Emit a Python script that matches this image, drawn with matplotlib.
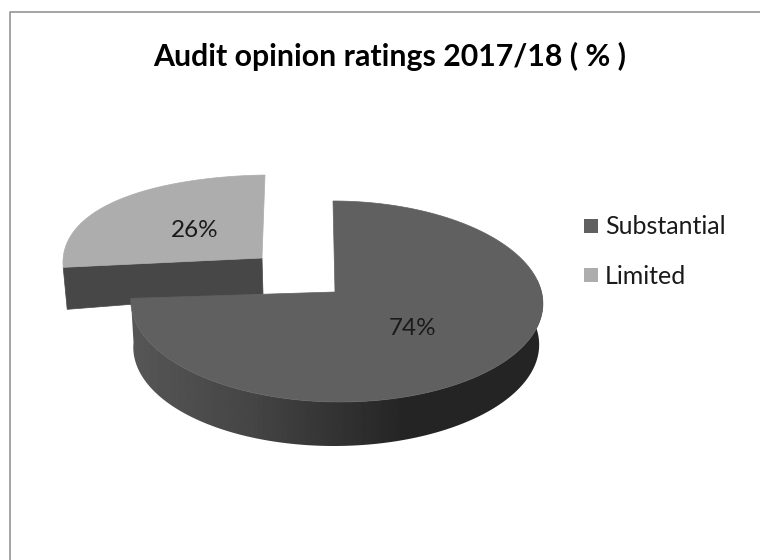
"""Audit opinion ratings drawn as an exploded 3D-style pie."""

import numpy as np
import matplotlib
matplotlib.use("Agg")
import matplotlib.pyplot as plt
from matplotlib.patches import Polygon, Rectangle
from matplotlib.lines import Line2D

categories = ["Substantial", "Limited"]
shares = [74, 26]
title = "Audit opinion ratings 2017/18 ( % )"

TOP_COLORS = ["#606060", "#adadad"]
LIMITED_WALL = "#474747"

plt.rcParams["font.family"] = ["Lato", "DejaVu Sans"]

W, H = 760, 560
fig = plt.figure(figsize=(W / 100, H / 100), dpi=100)
ax = fig.add_axes([0, 0, 1, 1])
ax.set_xlim(0, W)
ax.set_ylim(H, 0)
ax.axis("off")


def rim(theta, cx, cy, rx, a, b, lean, persp, shear):
    """Project a clockwise-from-top angle onto the tilted pie surface."""
    u, v = np.sin(theta), np.cos(theta)
    x = cx + rx * u * (1 - persp * v) + lean * v
    y = cy - (a * v - b * v**2) - shear * u
    return x, y


# slice boundary, clockwise from 12 o'clock
split = 2 * np.pi * shares[0] / sum(shares)

# main slice rim and apex
apex = (335, 292)
main = dict(cx=336.5, cy=292, rx=205, a=100.5, b=9.5, lean=-3.5, persp=0.1, shear=0)
theta = np.linspace(0, split, 400)
tx, ty = rim(theta, **main)

# front wall: top rim forward, lower rim back, filled with a horizontal gradient
depth = 44
wall = (theta > np.radians(80))
wx, wy = tx[wall], ty[wall]
bx = 335 + (wx - 335) * 0.985 + 6 * np.cos(theta[wall])
by = wy + depth
outline = np.column_stack([np.r_[wx, bx[::-1]], np.r_[wy, by[::-1]]])
clip = Polygon(outline, closed=True, transform=ax.transData, fc="none", ec="none")
ax.add_patch(clip)
grad_x = np.array([130, 253, 337, 403, 545])
grad_g = np.array([0.34, 0.27, 0.20, 0.145, 0.145])
xs = np.linspace(130, 545, 416)
shade = np.interp(xs, grad_x, grad_g)[None, :]
im = ax.imshow(shade, cmap="gray", vmin=0, vmax=1, extent=(130, 545, 460, 280),
               aspect="auto", zorder=2, interpolation="bilinear")
im.set_clip_path(clip)
ax.set_xlim(0, W)
ax.set_ylim(H, 0)

# limited slice sits behind the main one
lim = dict(cx=262, cy=258, rx=199, a=100, b=17, lean=3, persp=0, shear=3)
theta2 = np.linspace(split, 2 * np.pi, 120)
lx, ly = rim(theta2, **lim)
ax.add_patch(Polygon(
    [(lx[0], ly[0]), (lim["cx"], lim["cy"]), (263, 294), (lx[0] + 4, ly[0] + 42)],
    closed=True, fc=LIMITED_WALL, ec=LIMITED_WALL, lw=0.5, zorder=1,
))
ax.add_patch(Polygon(
    list(zip(lx, ly)) + [(lim["cx"], lim["cy"])],
    closed=True, fc=TOP_COLORS[1], ec=TOP_COLORS[1], lw=0.5, zorder=1.5,
))

# main slice top face goes over everything
ax.add_patch(Polygon(
    list(zip(tx, ty)) + [apex],
    closed=True, fc=TOP_COLORS[0], ec=TOP_COLORS[0], lw=0.5, zorder=3,
))

# percentage labels
ax.text(413, 328.5, f"{shares[0]}%", fontsize=17.5, color="#1a1a1a", ha="center", va="center", zorder=4)
ax.text(195, 230.5, f"{shares[1]}%", fontsize=17.5, color="#1a1a1a", ha="center", va="center", zorder=4)

# legend
for name, color, ypos in zip(categories, TOP_COLORS, [226, 275]):
    ax.add_patch(Rectangle((584, ypos - 7), 14, 14, fc=color, ec="none"))
    ax.text(605, ypos + 1, name, fontsize=18, color="#1a1a1a", ha="left", va="center")

ax.text(390, 56, title, fontsize=21.8, fontweight="bold", color="black", ha="center", va="center")

# chart frame: only the top and left edges fall inside the image
ax.add_line(Line2D([9.5, 9.5, W], [H, 11.5, 11.5], color="#8c8c8c", lw=1.1))

fig.savefig("out.png", dpi=100)
plt.close(fig)
